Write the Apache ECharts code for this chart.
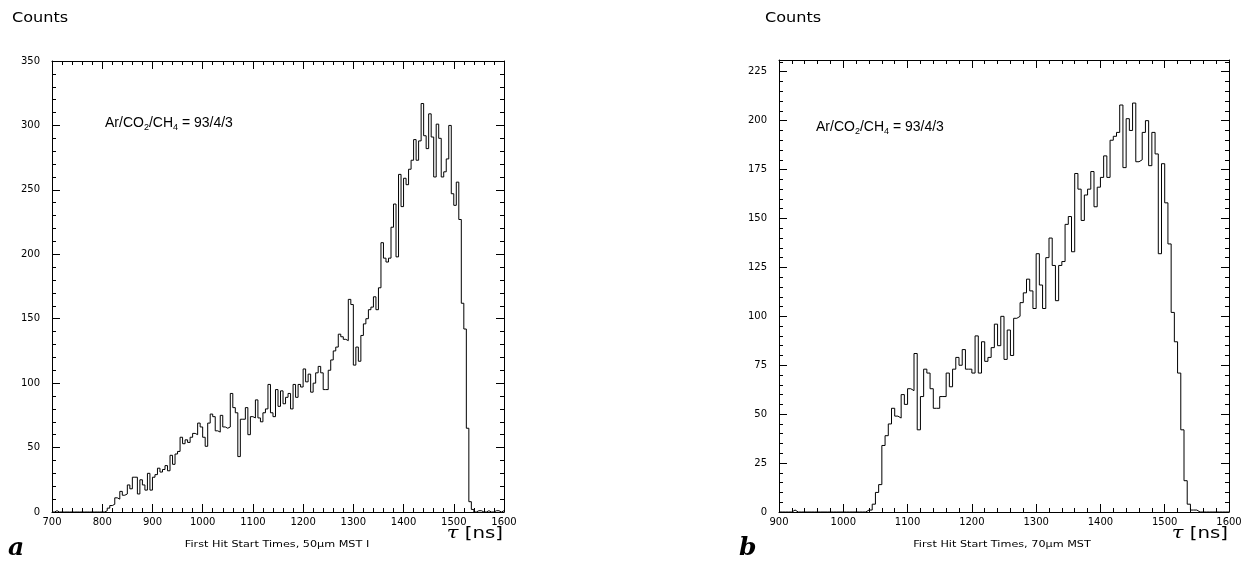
<!DOCTYPE html>
<html>
<head>
<meta charset="utf-8">
<title>First Hit Start Times</title>
<script src="https://cdn.jsdelivr.net/npm/echarts@6/dist/echarts.min.js"></script>
<style>
  html, body { margin: 0; padding: 0; background: #fff; }
  #chart { width: 1260px; height: 568px; }
</style>
</head>
<body>
<div id="chart"></div>
<script>
// Histogram binning (ns)
const binWidth = 5;

// Panel a: 50um MST I, bins start at 700 ns
const binStartA = 700;
const countsA = [
  // 700 - 795
  0, 1, 0, 0, 0, 0, 0, 0, 0, 0, 0, 0, 0, 0, 0, 0, 0, 0, 0, 0,
  // 800 - 895
  0, 1, 3, 5, 6, 11, 10, 16, 13, 14, 21, 18, 27, 27, 14, 25, 21, 17, 30, 17,
  // 900 - 995
  27, 29, 34, 31, 33, 36, 32, 44, 37, 45, 47, 58, 53, 56, 54, 58, 61, 60, 69, 66,
  // 1000 - 1095
  58, 51, 69, 76, 74, 63, 62, 75, 66, 65, 66, 92, 81, 77, 43, 72, 72, 81, 60, 74,
  // 1100 - 1195
  73, 87, 73, 70, 77, 80, 99, 77, 74, 95, 82, 94, 84, 89, 92, 80, 99, 89, 99, 97,
  // 1200 - 1295
  111, 101, 107, 93, 100, 108, 113, 108, 95, 95, 110, 118, 125, 128, 138, 136, 134, 133, 165, 161,
  // 1300 - 1395
  114, 128, 117, 137, 146, 150, 157, 159, 167, 157, 174, 209, 197, 194, 197, 221, 239, 198, 262, 237,
  // 1400 - 1495
  259, 254, 266, 273, 289, 273, 288, 317, 292, 282, 309, 291, 260, 301, 290, 260, 264, 274, 300, 247,
  // 1500 - 1595
  238, 256, 227, 162, 142, 65, 8, 2, 0, 1, 1, 0, 0, 1, 0, 0, 1, 1, 0, 1
];

// Panel b: 70um MST, bins start at 900 ns
const binStartB = 900;
const countsB = [
  // 900 - 995
  0, 0, 0, 0, 1, 0, 0, 0, 0, 0, 0, 0, 0, 0, 0, 0, 0, 0, 0, 0,
  // 1000 - 1095
  0, 0, 0, 0, 0, 0, 0, 1, 1, 4, 10, 14, 34, 39, 45, 53, 49, 48, 60, 55,
  // 1100 - 1195
  63, 62, 81, 42, 59, 73, 71, 63, 53, 53, 59, 59, 71, 64, 73, 79, 75, 83, 73, 73,
  // 1200 - 1295
  71, 90, 71, 87, 77, 79, 84, 96, 85, 100, 78, 93, 80, 99, 100, 107, 112, 119, 113, 104,
  // 1300 - 1395
  132, 116, 104, 130, 140, 126, 108, 126, 128, 147, 151, 133, 173, 165, 149, 162, 165, 174, 156, 166,
  // 1400 - 1495
  171, 182, 171, 190, 192, 194, 208, 176, 201, 195, 209, 179, 180, 194, 200, 177, 194, 183, 132, 178,
  // 1500 - 1595
  158, 137, 102, 87, 71, 42, 16, 4, 1, 1, 0, 0, 0, 0, 0, 0, 0, 0, 0, 0
];

// Axis settings
const xRangeA = [700, 1600];
const xRangeB = [900, 1600];
const yRangeA = [0, 350];
const yRangeB = [0, 231];
const yStepA = 50;
const yStepB = 25;
const xStep = 100;

const axisFont = 'DejaVu Sans';

// Turn bin counts into step-line points (each bin drawn flat across its width)
function histPoints(start, width, counts) {
  const pts = counts.map((v, i) => [start + i * width, v]);
  pts.push([start + counts.length * width, counts[counts.length - 1]]);
  return pts;
}

const plainNumber = v => String(v);

function xAxisDef(gridIndex, range, position) {
  const bottom = position === 'bottom';
  return {
    type: 'value', gridIndex, position,
    min: range[0], max: range[1], interval: xStep,
    axisLine: { show: true, onZero: false, lineStyle: { color: '#000', width: 1 } },
    axisTick: { show: true, inside: true, length: 8, lineStyle: { color: '#000' } },
    minorTick: { show: true, splitNumber: 5, length: 4, lineStyle: { color: '#000' } },
    splitLine: { show: false },
    axisLabel: {
      show: bottom, color: '#000', fontFamily: axisFont, fontSize: 10, margin: 5,
      showMinLabel: true, showMaxLabel: true, formatter: plainNumber
    }
  };
}

function yAxisDef(gridIndex, range, step, position) {
  const left = position === 'left';
  return {
    type: 'value', gridIndex, position,
    min: range[0], max: range[1], interval: step,
    axisLine: { show: true, onZero: false, lineStyle: { color: '#000', width: 1 } },
    axisTick: { show: true, inside: true, length: 8, lineStyle: { color: '#000' } },
    minorTick: { show: true, splitNumber: 5, length: 4, lineStyle: { color: '#000' } },
    splitLine: { show: false },
    axisLabel: {
      show: left, color: '#000', fontFamily: axisFont, fontSize: 10, margin: 12,
      showMinLabel: true, showMaxLabel: range[1] % step === 0, formatter: plainNumber
    }
  };
}

const gasFont = 'Liberation Sans';
const subRich = {
  base: { fontFamily: gasFont, fontSize: 14, lineHeight: 18, fill: '#000' },
  sub: { fontFamily: gasFont, fontSize: 9, lineHeight: 9, verticalAlign: 'bottom', fill: '#000' }
};
const gasText = '{base|Ar/CO}{sub|2}{base|/CH}{sub|4}{base| = 93/4/3}';

const tauRich = {
  tau: { fontFamily: 'DejaVu Serif', fontStyle: 'italic', fontSize: 16, fill: '#000' },
  unit: { fontFamily: axisFont, fontSize: 15, fill: '#000' }
};

function panelText(o) {
  return [
    { type: 'text', x: o.countsX, y: 18, scaleX: 1.15,
      style: { text: 'Counts', font: '14px "DejaVu Sans"', fill: '#000', verticalAlign: 'middle' } },
    { type: 'text', x: o.gasX, y: o.gasY,
      style: { text: gasText, rich: subRich, verticalAlign: 'middle' } },
    { type: 'text', x: o.tauX, y: 534, scaleX: 1.32,
      style: { text: '{tau|τ}{unit| [ns]}', rich: tauRich, align: 'right', verticalAlign: 'middle' } },
    { type: 'text', x: o.subX, y: 545, scaleX: 1.18,
      style: { text: o.caption, font: '9.5px "DejaVu Sans"', fill: '#000', align: 'center', verticalAlign: 'middle' } },
    { type: 'text', x: o.letterX, y: 548,
      style: { text: o.letter, font: 'italic bold 25px "DejaVu Serif"', fill: '#000', verticalAlign: 'middle' } }
  ];
}

const chart = echarts.init(document.getElementById('chart'), null, { renderer: 'canvas' });

chart.setOption({
  animation: false,
  backgroundColor: '#fff',
  grid: [
    { left: 52, top: 61, width: 452, height: 451 },
    { left: 779, top: 60, width: 450, height: 452 }
  ],
  xAxis: [
    xAxisDef(0, xRangeA, 'bottom'),
    xAxisDef(0, xRangeA, 'top'),
    xAxisDef(1, xRangeB, 'bottom'),
    xAxisDef(1, xRangeB, 'top')
  ],
  yAxis: [
    yAxisDef(0, yRangeA, yStepA, 'left'),
    yAxisDef(0, yRangeA, yStepA, 'right'),
    yAxisDef(1, yRangeB, yStepB, 'left'),
    yAxisDef(1, yRangeB, yStepB, 'right')
  ],
  series: [
    {
      type: 'line', xAxisIndex: 0, yAxisIndex: 0, step: 'end',
      data: histPoints(binStartA, binWidth, countsA),
      showSymbol: false, symbol: 'none',
      lineStyle: { color: '#000', width: 1 }, silent: true
    },
    {
      type: 'line', xAxisIndex: 2, yAxisIndex: 2, step: 'end',
      data: histPoints(binStartB, binWidth, countsB),
      showSymbol: false, symbol: 'none',
      lineStyle: { color: '#000', width: 1 }, silent: true
    }
  ],
  graphic: [
    ...panelText({ countsX: 12, gasX: 105, gasY: 123, tauX: 503, subX: 277,
      caption: 'First Hit Start Times, 50\u03bcm MST I', letterX: 8, letter: 'a' }),
    ...panelText({ countsX: 765, gasX: 816, gasY: 127, tauX: 1228, subX: 1002,
      caption: 'First Hit Start Times, 70\u03bcm MST', letterX: 739, letter: 'b' })
  ]
});
</script>
</body>
</html>
